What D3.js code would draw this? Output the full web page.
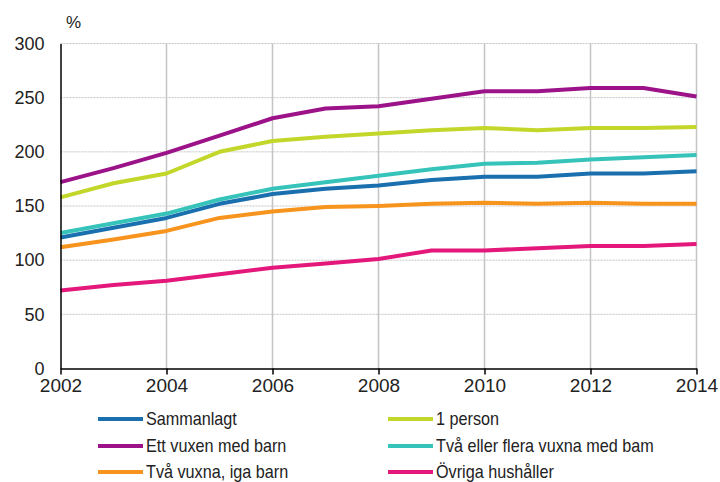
<!DOCTYPE html>
<html>
<head>
<meta charset="utf-8">
<script src="https://cdn.jsdelivr.net/npm/d3@7.9.0/dist/d3.min.js"></script>
<style>
  body { margin: 0; background: #fff; }
  svg { display: block; font-family: "Liberation Sans", Arial, sans-serif; }
</style>
</head>
<body>
<svg id="chart" width="720" height="482"></svg>
<script>
// data
const years = [2002, 2003, 2004, 2005, 2006, 2007, 2008, 2009, 2010, 2011, 2012, 2013, 2014];
const seriesNames = ['Sammanlagt', '1 person', 'Ett vuxen med barn', 'Två eller flera vuxna med bam', 'Två vuxna, iga barn', 'Övriga hushåller'];
const sammanlagt = [121, 130, 139, 152, 161, 166, 169, 174, 177, 177, 180, 180, 182];
const enPerson = [158, 171, 180, 200, 210, 214, 217, 220, 222, 220, 222, 222, 223];
const ettVuxen = [172, 185, 199, 215, 231, 240, 242, 249, 256, 256, 259, 259, 251];
const tvaMedBarn = [125, 134, 143, 156, 166, 172, 178, 184, 189, 190, 193, 195, 197];
const tvaUtanBarn = [112, 119, 127, 139, 145, 149, 150, 152, 153, 152, 153, 152, 152];
const ovriga = [72, 77, 81, 87, 93, 97, 101, 109, 109, 111, 113, 113, 115];
const yTicks = [0, 50, 100, 150, 200, 250, 300];
const xTicks = [2002, 2004, 2006, 2008, 2010, 2012, 2014];

const colors = ['#1a6fae', '#c3d62a', '#9c1289', '#35c3ba', '#f7941d', '#e4177a'];
// draw order as in the picture (bottom to top)
const seriesValues = [sammanlagt, enPerson, ettVuxen, tvaMedBarn, tvaUtanBarn, ovriga];
const drawOrder = [5, 4, 0, 3, 1, 2];

const svg = d3.select('#chart');
const x = d3.scaleLinear().domain([2002, 2014]).range([60.5, 696.5]);
const y = d3.scaleLinear().domain([0, 300]).range([368.5, 43.5]);

// horizontal dotted grid
svg.append('g')
  .selectAll('line')
  .data(yTicks.filter(d => d > 0))
  .join('line')
  .attr('x1', x(2002)).attr('x2', x(2014))
  .attr('y1', d => y(d)).attr('y2', d => y(d))
  .attr('stroke', '#c4c4c4')
  .attr('stroke-dasharray', '2,1');

// vertical grid
svg.append('g')
  .selectAll('line')
  .data(xTicks.filter(d => d > 2002))
  .join('line')
  .attr('x1', d => x(d)).attr('x2', d => x(d))
  .attr('y1', y(300)).attr('y2', y(0))
  .attr('stroke', '#c4c4c4')
  .attr('stroke-width', 1.5);

// lines
const line = d3.line()
  .x((d, i) => x(years[i]))
  .y(d => y(d));

svg.append('g')
  .selectAll('path')
  .data(drawOrder)
  .join('path')
  .attr('d', k => line(seriesValues[k]))
  .attr('fill', 'none')
  .attr('stroke', k => colors[k])
  .attr('stroke-width', 4)
  .attr('stroke-linejoin', 'round');

// y axis
const yAxis = svg.append('g')
  .attr('transform', `translate(${x(2002)},0)`)
  .call(d3.axisLeft(y).tickValues(yTicks).tickSize(0).tickPadding(16));
yAxis.select('.domain').attr('stroke', '#000').attr('stroke-width', 1.5);
yAxis.selectAll('text').attr('font-size', 18).attr('fill', '#222')
  .attr('font-family', '"Liberation Sans", Arial, sans-serif');

// x axis
const xAxis = svg.append('g')
  .attr('transform', `translate(0,${y(0)})`)
  .call(d3.axisBottom(x).tickValues(xTicks).tickFormat(d3.format('d')).tickSize(6).tickSizeOuter(0).tickPadding(4));
xAxis.select('.domain').attr('stroke', '#000').attr('stroke-width', 1.5);
xAxis.selectAll('.tick line').attr('stroke', '#000').attr('stroke-width', 1.5);
xAxis.selectAll('text').attr('font-size', 19).attr('fill', '#222')
  .attr('font-family', '"Liberation Sans", Arial, sans-serif');

svg.append('text')
  .attr('x', 66).attr('y', 28)
  .attr('font-size', 17).attr('fill', '#222')
  .text('%');

// legend, two columns
const legendPos = [
  [98, 419], [388, 419],
  [98, 446], [388, 446],
  [98, 472], [388, 472]
];
const legend = svg.append('g')
  .selectAll('g')
  .data(seriesNames)
  .join('g')
  .attr('transform', (d, i) => `translate(${legendPos[i][0]},${legendPos[i][1]})`);
legend.append('line')
  .attr('x1', 0).attr('x2', 45)
  .attr('stroke', (d, i) => colors[i])
  .attr('stroke-width', 4);
// condensed look of the original legend font
legend.append('text')
  .attr('transform', 'translate(48,0) scale(0.9,1)')
  .attr('dy', '0.35em')
  .attr('font-size', 18)
  .attr('fill', '#222')
  .text(d => d);
</script>
</body>
</html>
